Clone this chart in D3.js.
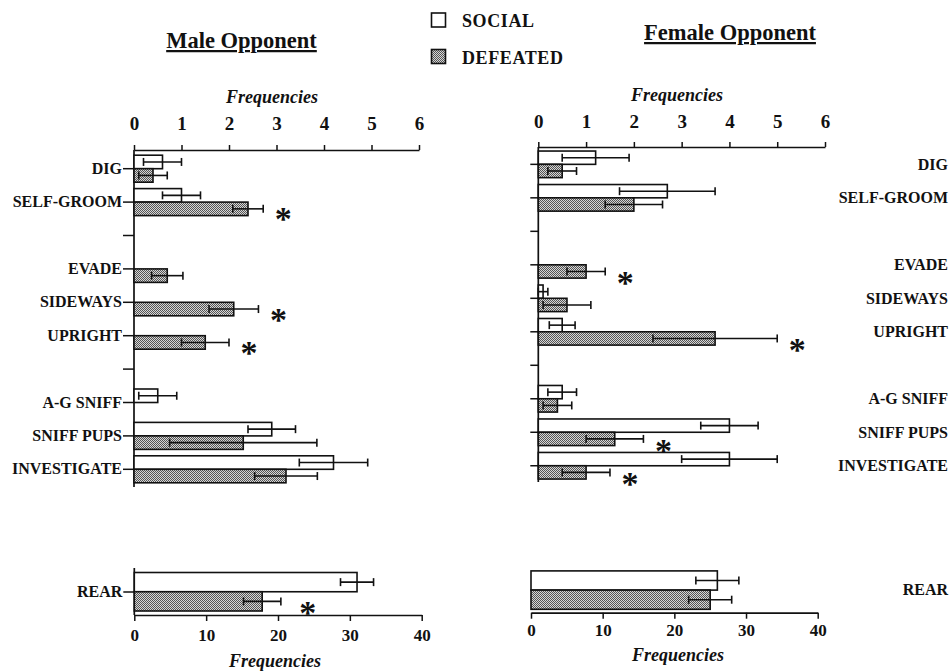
<!DOCTYPE html>
<html>
<head>
<meta charset="utf-8">
<script src="https://cdn.jsdelivr.net/npm/d3@7"></script>
<style>
  html, body { margin: 0; padding: 0; background: #fff; }
  svg text { font-family: "Liberation Serif", "Times New Roman", serif; fill: #111; }
</style>
</head>
<body>
<svg id="chart" width="952" height="672"></svg>
<script>
// ---------------- DATA ----------------
const categories = ["DIG", "SELF-GROOM", "gap1", "EVADE", "SIDEWAYS", "UPRIGHT", "gap2", "A-G SNIFF", "SNIFF PUPS", "INVESTIGATE"];
const freqTicks = [0, 1, 2, 3, 4, 5, 6];
const rearTicks = [0, 10, 20, 30, 40];
const seriesNames = ["SOCIAL", "DEFEATED"];

const maleSocial     = [0.6, 1.0, null, 0,    0,    0,    null, 0.5, 2.9,  4.2];
const maleSocialSE   = [0.4, 0.4, null, 0,    0,    0,    null, 0.4, 0.5,  0.72];
const maleDefeated   = [0.4, 2.4, null, 0.7,  2.1,  1.5,  null, 0,   2.3,  3.2];
const maleDefeatedSE = [0.3, 0.32, null, 0.33, 0.52, 0.5, null, 0,   1.55, 0.66];
const maleSig = ["SELF-GROOM", "SIDEWAYS", "UPRIGHT"];

const femaleSocial     = [1.2, 2.7, null, 0,   0.1, 0.5,  null, 0.5, 4.0, 4.0];
const femaleSocialSE   = [0.7, 1.0, null, 0,   0.1, 0.27, null, 0.3, 0.6, 1.0];
const femaleDefeated   = [0.5, 2.0, null, 1.0, 0.6, 3.7,  null, 0.4, 1.6, 1.0];
const femaleDefeatedSE = [0.3, 0.6, null, 0.4, 0.5, 1.3,  null, 0.3, 0.6, 0.5];
const femaleSig = ["EVADE", "UPRIGHT", "SNIFF PUPS", "INVESTIGATE"];

const rearCategories = ["REAR"];
const maleRearSocial = [31], maleRearSocialSE = [2.3];
const maleRearDefeated = [17.8], maleRearDefeatedSE = [2.6];
const maleRearSig = ["REAR"];
const femaleRearSocial = [26], femaleRearSocialSE = [3];
const femaleRearDefeated = [25], femaleRearDefeatedSE = [3];
const femaleRearSig = [];

// ---------------- SETUP ----------------
const svg = d3.select("#chart");
const defs = svg.append("defs");
const pat = defs.append("pattern").attr("id", "dither")
  .attr("patternUnits", "userSpaceOnUse").attr("width", 2).attr("height", 2);
pat.append("rect").attr("width", 2).attr("height", 2).attr("fill", "#d6d6d6");
pat.append("rect").attr("x", 0).attr("y", 0).attr("width", 1).attr("height", 1).attr("fill", "#555");
pat.append("rect").attr("x", 1).attr("y", 1).attr("width", 1).attr("height", 1).attr("fill", "#555");

const fills = { SOCIAL: "#ffffff", DEFEATED: "url(#dither)" };
const label = c => c.startsWith("gap") ? "" : c;
const intFmt = d3.format("d");
const astSize = 34;

function styleAxis(g, fontSize) {
  g.attr("font-family", null);
  g.select(".domain").attr("stroke", "#111").attr("stroke-width", 1.7);
  g.selectAll(".tick line").attr("stroke", "#111").attr("stroke-width", 1.5);
  g.selectAll(".tick text")
    .attr("font-weight", "bold").attr("font-size", fontSize).attr("fill", "#111");
}

function drawBars(g, x, y, sub, cats, vals, ses, sig, astDx, astDy) {
  seriesNames.forEach((s, si) => {
    const v = vals[si], se = ses[si];
    const idx = cats.map((c, i) => i).filter(i => v[i] != null && v[i] > 0);
    g.append("g").selectAll("rect").data(idx).join("rect")
      .attr("x", x(0))
      .attr("y", i => y(cats[i]) + y.bandwidth() / 2 + sub(s))
      .attr("width", i => x(v[i]) - x(0))
      .attr("height", sub.bandwidth())
      .attr("fill", fills[s]).attr("stroke", "#111").attr("stroke-width", 1.6);
    const eb = g.append("g").attr("stroke", "#111").attr("stroke-width", 1.6);
    idx.forEach(i => {
      const cy = y(cats[i]) + y.bandwidth() / 2 + sub(s) + sub.bandwidth() / 2;
      const lo = x(Math.max(0, v[i] - se[i])), hi = x(v[i] + se[i]);
      eb.append("line").attr("x1", lo).attr("x2", hi).attr("y1", cy).attr("y2", cy);
      eb.append("line").attr("x1", lo).attr("x2", lo).attr("y1", cy - 4).attr("y2", cy + 4);
      eb.append("line").attr("x1", hi).attr("x2", hi).attr("y1", cy - 4).attr("y2", cy + 4);
    });
  });
  // significance asterisks (defeated vs social)
  const d = vals[1], dse = ses[1];
  g.append("g").selectAll("text").data(sig).join("text")
    .attr("x", c => x(d[cats.indexOf(c)] + dse[cats.indexOf(c)]) + astDx)
    .attr("y", c => y(c) + y.bandwidth() / 2 + astDy + astSize * 0.45)
    .attr("text-anchor", "middle").attr("font-size", astSize).attr("font-weight", "bold")
    .text("*");
}

// ---------------- TITLES & LEGEND ----------------
svg.append("text").attr("x", 241.5).attr("y", 48).attr("text-anchor", "middle")
  .attr("font-size", 22.5).attr("font-weight", "bold").style("text-decoration", "underline")
  .text("Male Opponent");
svg.append("text").attr("x", 730).attr("y", 40).attr("text-anchor", "middle")
  .attr("font-size", 22.5).attr("font-weight", "bold").style("text-decoration", "underline")
  .text("Female Opponent");

const legend = svg.append("g");
seriesNames.forEach((s, i) => {
  const ly = [13, 49.5][i];
  legend.append("rect").attr("x", 431.5).attr("y", ly).attr("width", 14).attr("height", 14)
    .attr("fill", fills[s]).attr("stroke", "#111").attr("stroke-width", 1.6);
  legend.append("text").attr("x", 462).attr("y", ly + 14).attr("font-size", 18)
    .attr("font-weight", "bold").attr("letter-spacing", 0.6).text(s);
});

// ---------------- MALE TOP ----------------
{
  const x = d3.scaleLinear().domain([0, 6]).range([134, 419]);
  const y = d3.scaleBand().domain(categories).range([152, 486]);
  const sub = d3.scaleBand().domain(seriesNames).range([-13.5, 13.5]);
  const g = svg.append("g");
  g.append("g").attr("transform", "translate(0,150)")
    .call(d3.axisTop(x).tickValues(freqTicks).tickFormat(intFmt).tickSizeInner(5).tickSizeOuter(0).tickPadding(15))
    .call(a => styleAxis(a, 19));
  g.append("g").attr("transform", "translate(134,0)")
    .call(d3.axisLeft(y).tickFormat(label).tickSizeInner(11).tickSizeOuter(0).tickPadding(1))
    .call(a => styleAxis(a, 16))
    .call(a => a.select(".domain").attr("d", "M0,150V487"));
  g.append("text").attr("x", 272).attr("y", 103).attr("text-anchor", "middle")
    .attr("font-size", 18).attr("font-style", "italic").attr("font-weight", "bold").text("Frequencies");
  drawBars(g, x, y, sub, categories, [maleSocial, maleDefeated], [maleSocialSE, maleDefeatedSE], maleSig, 20, 13);
}

// ---------------- FEMALE TOP ----------------
{
  const x = d3.scaleLinear().domain([0, 6]).range([538.3, 825]);
  const y = d3.scaleBand().domain(categories).range([147.6, 482.5]);
  const sub = d3.scaleBand().domain(seriesNames).range([-13.3, 13.3]);
  const g = svg.append("g");
  g.append("g").attr("transform", "translate(0,147)")
    .call(d3.axisTop(x).tickValues(freqTicks).tickFormat(intFmt).tickSizeInner(5).tickSizeOuter(0).tickPadding(14))
    .call(a => styleAxis(a, 19));
  g.append("g").attr("transform", "translate(538.3,0)")
    .call(d3.axisLeft(y).tickFormat("").tickSizeInner(8).tickSizeOuter(0))
    .call(a => styleAxis(a, 16))
    .call(a => a.select(".domain").attr("d", "M0,147V482"));
  g.append("g").selectAll("text").data(categories.filter(c => label(c))).join("text")
    .attr("x", 948).attr("y", c => y(c) + y.bandwidth() / 2).attr("dy", "0.35em")
    .attr("text-anchor", "end").attr("font-size", 16).attr("font-weight", "bold").text(c => c);
  g.append("text").attr("x", 677).attr("y", 101).attr("text-anchor", "middle")
    .attr("font-size", 18).attr("font-style", "italic").attr("font-weight", "bold").text("Frequencies");
  drawBars(g, x, y, sub, categories, [femaleSocial, femaleDefeated], [femaleSocialSE, femaleDefeatedSE], femaleSig, 20, 14);
}

// ---------------- MALE REAR ----------------
{
  const x = d3.scaleLinear().domain([0, 40]).range([134.3, 421.7]);
  const y = d3.scaleBand().domain(rearCategories).range([569, 615]);
  const sub = d3.scaleBand().domain(seriesNames).range([-19.5, 19]);
  const g = svg.append("g");
  g.append("g").attr("transform", "translate(0,615)")
    .call(d3.axisBottom(x).tickValues(rearTicks).tickFormat(intFmt).tickSizeInner(6).tickSizeOuter(0).tickPadding(8))
    .call(a => styleAxis(a, 17));
  g.append("g").attr("transform", "translate(134.3,0)")
    .call(d3.axisLeft(y).tickSizeInner(11).tickSizeOuter(0).tickPadding(1))
    .call(a => styleAxis(a, 16))
    .call(a => a.select(".domain").attr("d", "M0,568V615"));
  g.append("text").attr("x", 275).attr("y", 667).attr("text-anchor", "middle")
    .attr("font-size", 18).attr("font-style", "italic").attr("font-weight", "bold").text("Frequencies");
  drawBars(g, x, y, sub, rearCategories, [maleRearSocial, maleRearDefeated], [maleRearSocialSE, maleRearDefeatedSE], maleRearSig, 27, 17);
}

// ---------------- FEMALE REAR ----------------
{
  const x = d3.scaleLinear().domain([0, 40]).range([531, 817.7]);
  const y = d3.scaleBand().domain(rearCategories).range([567.5, 612.7]);
  const sub = d3.scaleBand().domain(seriesNames).range([-19.2, 19.2]);
  const g = svg.append("g");
  g.append("g").attr("transform", "translate(0,612.7)")
    .call(d3.axisBottom(x).tickValues(rearTicks).tickFormat(intFmt).tickSizeInner(6).tickSizeOuter(0).tickPadding(5))
    .call(a => styleAxis(a, 17));
  g.append("g").selectAll("text").data(rearCategories).join("text")
    .attr("x", 948).attr("y", c => y(c) + y.bandwidth() / 2 - 1).attr("dy", "0.35em")
    .attr("text-anchor", "end").attr("font-size", 16).attr("font-weight", "bold").text(c => c);
  g.append("text").attr("x", 678).attr("y", 661).attr("text-anchor", "middle")
    .attr("font-size", 18).attr("font-style", "italic").attr("font-weight", "bold").text("Frequencies");
  drawBars(g, x, y, sub, rearCategories, [femaleRearSocial, femaleRearDefeated], [femaleRearSocialSE, femaleRearDefeatedSE], femaleRearSig, 27, 18);
}
</script>
</body>
</html>
